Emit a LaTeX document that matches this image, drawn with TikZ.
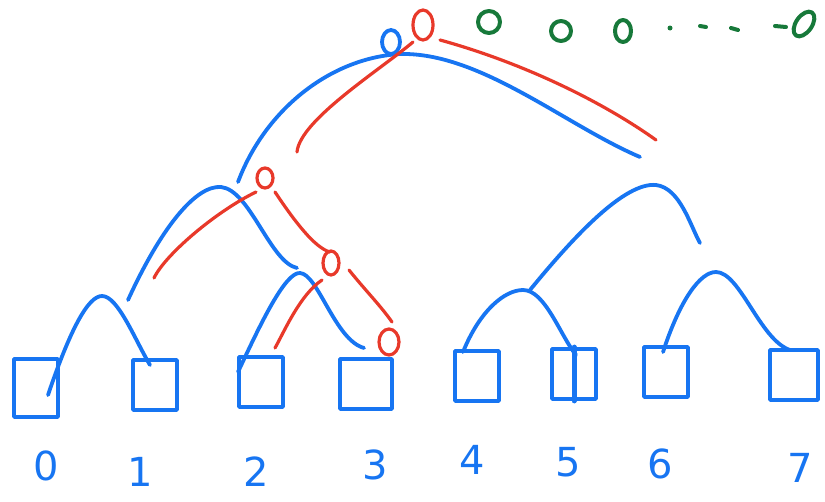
\documentclass[tikz,border=0pt]{standalone}
\usepackage{fontspec}
\setmainfont{DejaVu Sans}
\begin{document}
\begin{tikzpicture}[x=1pt,y=-1pt,line cap=round,line join=round]
\definecolor{pblue}{HTML}{1775F2}
\definecolor{pred}{HTML}{E8392A}
\definecolor{pgreen}{HTML}{17793A}
\tikzset{
  bl/.style={draw=pblue,line width=3.8pt},
  rd/.style={draw=pred,line width=3.2pt},
  gr/.style={draw=pgreen,line width=4pt},
  leaf/.style={draw=pblue,line width=3.8pt,minimum width=44pt,minimum height=50pt,inner sep=0pt},
  digit/.style={text=pblue,font=\fontsize{40}{42}\selectfont},
}
\useasboundingbox (0,0) rectangle (825,501);
% leaves
\node[leaf,minimum height=58pt] (b0) at (36,388) {};
\node[leaf] (b1) at (155,385) {};
\node[leaf] (b2) at (261,382) {};
\node[leaf,minimum width=52pt] (b3) at (366,384) {};
\node[leaf] (b4) at (477,376) {};
\node[leaf] (b5) at (574,374) {};
\node[leaf] (b6) at (666,372) {};
\node[leaf,minimum width=48pt] (b7) at (794,375) {};
\draw[bl,line width=5pt] (b5.north) -- (b5.south);
% digits
\node[digit] (d0) at (46,466) {0};
\node[digit] (d1) at (140,472) {1};
\node[digit] (d2) at (256,472) {2};
\node[digit] (d3) at (375,465) {3};
\node[digit] (d4) at (472,460) {4};
\node[digit] (d5) at (568,462) {5};
\node[digit] (d6) at (660,464) {6};
\node[digit] (d7) at (800,468) {7};
% blue circle
\draw[bl] (391,42) ellipse (9 and 12);
\coordinate (rootL) at (238,182);
\coordinate (rootR) at (640,157);
\coordinate (rootT) at (400,54);
\draw[bl] (rootL) .. controls (265,110) and (330,58) .. (rootT) .. controls (480,52) and (565,125) .. (rootR);
% left subtree
\coordinate (lL) at (128,300);
\coordinate (lT) at (221,187);
\coordinate (lR) at (297,268);
\draw[bl] (lL) .. controls (160,230) and (195,185) .. (lT) .. controls (250,190) and (270,262) .. (lR);
% right subtree
\coordinate (rL) at (530,290);
\coordinate (rT) at (656,185);
\coordinate (rR) at (700,243);
\draw[bl] (rL) .. controls (575,235) and (625,182) .. (rT) .. controls (680,188) and (690,225) .. (rR);
% level 2 arcs
\draw[bl] (48,395) .. controls (70,330) and (88,296) .. (102,296) .. controls (118,296) and (135,340) .. (150,365);
\draw[bl] (238,372) .. controls (260,325) and (285,272) .. (300,273) .. controls (318,274) and (335,340) .. (364,348);
\draw[bl] (463,352) .. controls (480,310) and (505,290) .. (523,290) .. controls (545,290) and (560,335) .. (576,355);
\draw[bl] (663,352) .. controls (680,300) and (700,272) .. (716,272) .. controls (740,272) and (760,340) .. (790,350);
% red
\draw[rd] (423,25) ellipse (10 and 15);
\draw[rd] (413,42) .. controls (380,70) and (300,120) .. (297,152);
\draw[rd] (440,40) .. controls (520,62) and (600,100) .. (656,140);
\draw[rd] (265,178) ellipse (8 and 10);
\draw[rd] (256,192) .. controls (215,212) and (165,255) .. (154,278);
\draw[rd] (275,192) .. controls (295,222) and (315,248) .. (330,252);
\draw[rd] (331,263) ellipse (8 and 12);
\draw[rd] (322,280) .. controls (300,295) and (285,330) .. (275,348);
\draw[rd] (349,270) .. controls (365,290) and (380,305) .. (392,322);
\draw[rd] (389,342) ellipse (10 and 13);
% green
\draw[gr] (489,22) ellipse (11 and 11);
\draw[gr] (561,31) ellipse (10 and 10);
\draw[gr] (623,31) ellipse (8 and 11);
\fill[pgreen] (670,28) circle (2.5pt);
\draw[gr] (700,26) -- (706,27);
\draw[gr] (731,28) -- (738,30);
\draw[gr] (775,26) -- (786,27);
\draw[gr,rotate around={-35:(804,24)}] (804,24) ellipse (8 and 14);
\end{tikzpicture}
\end{document}
